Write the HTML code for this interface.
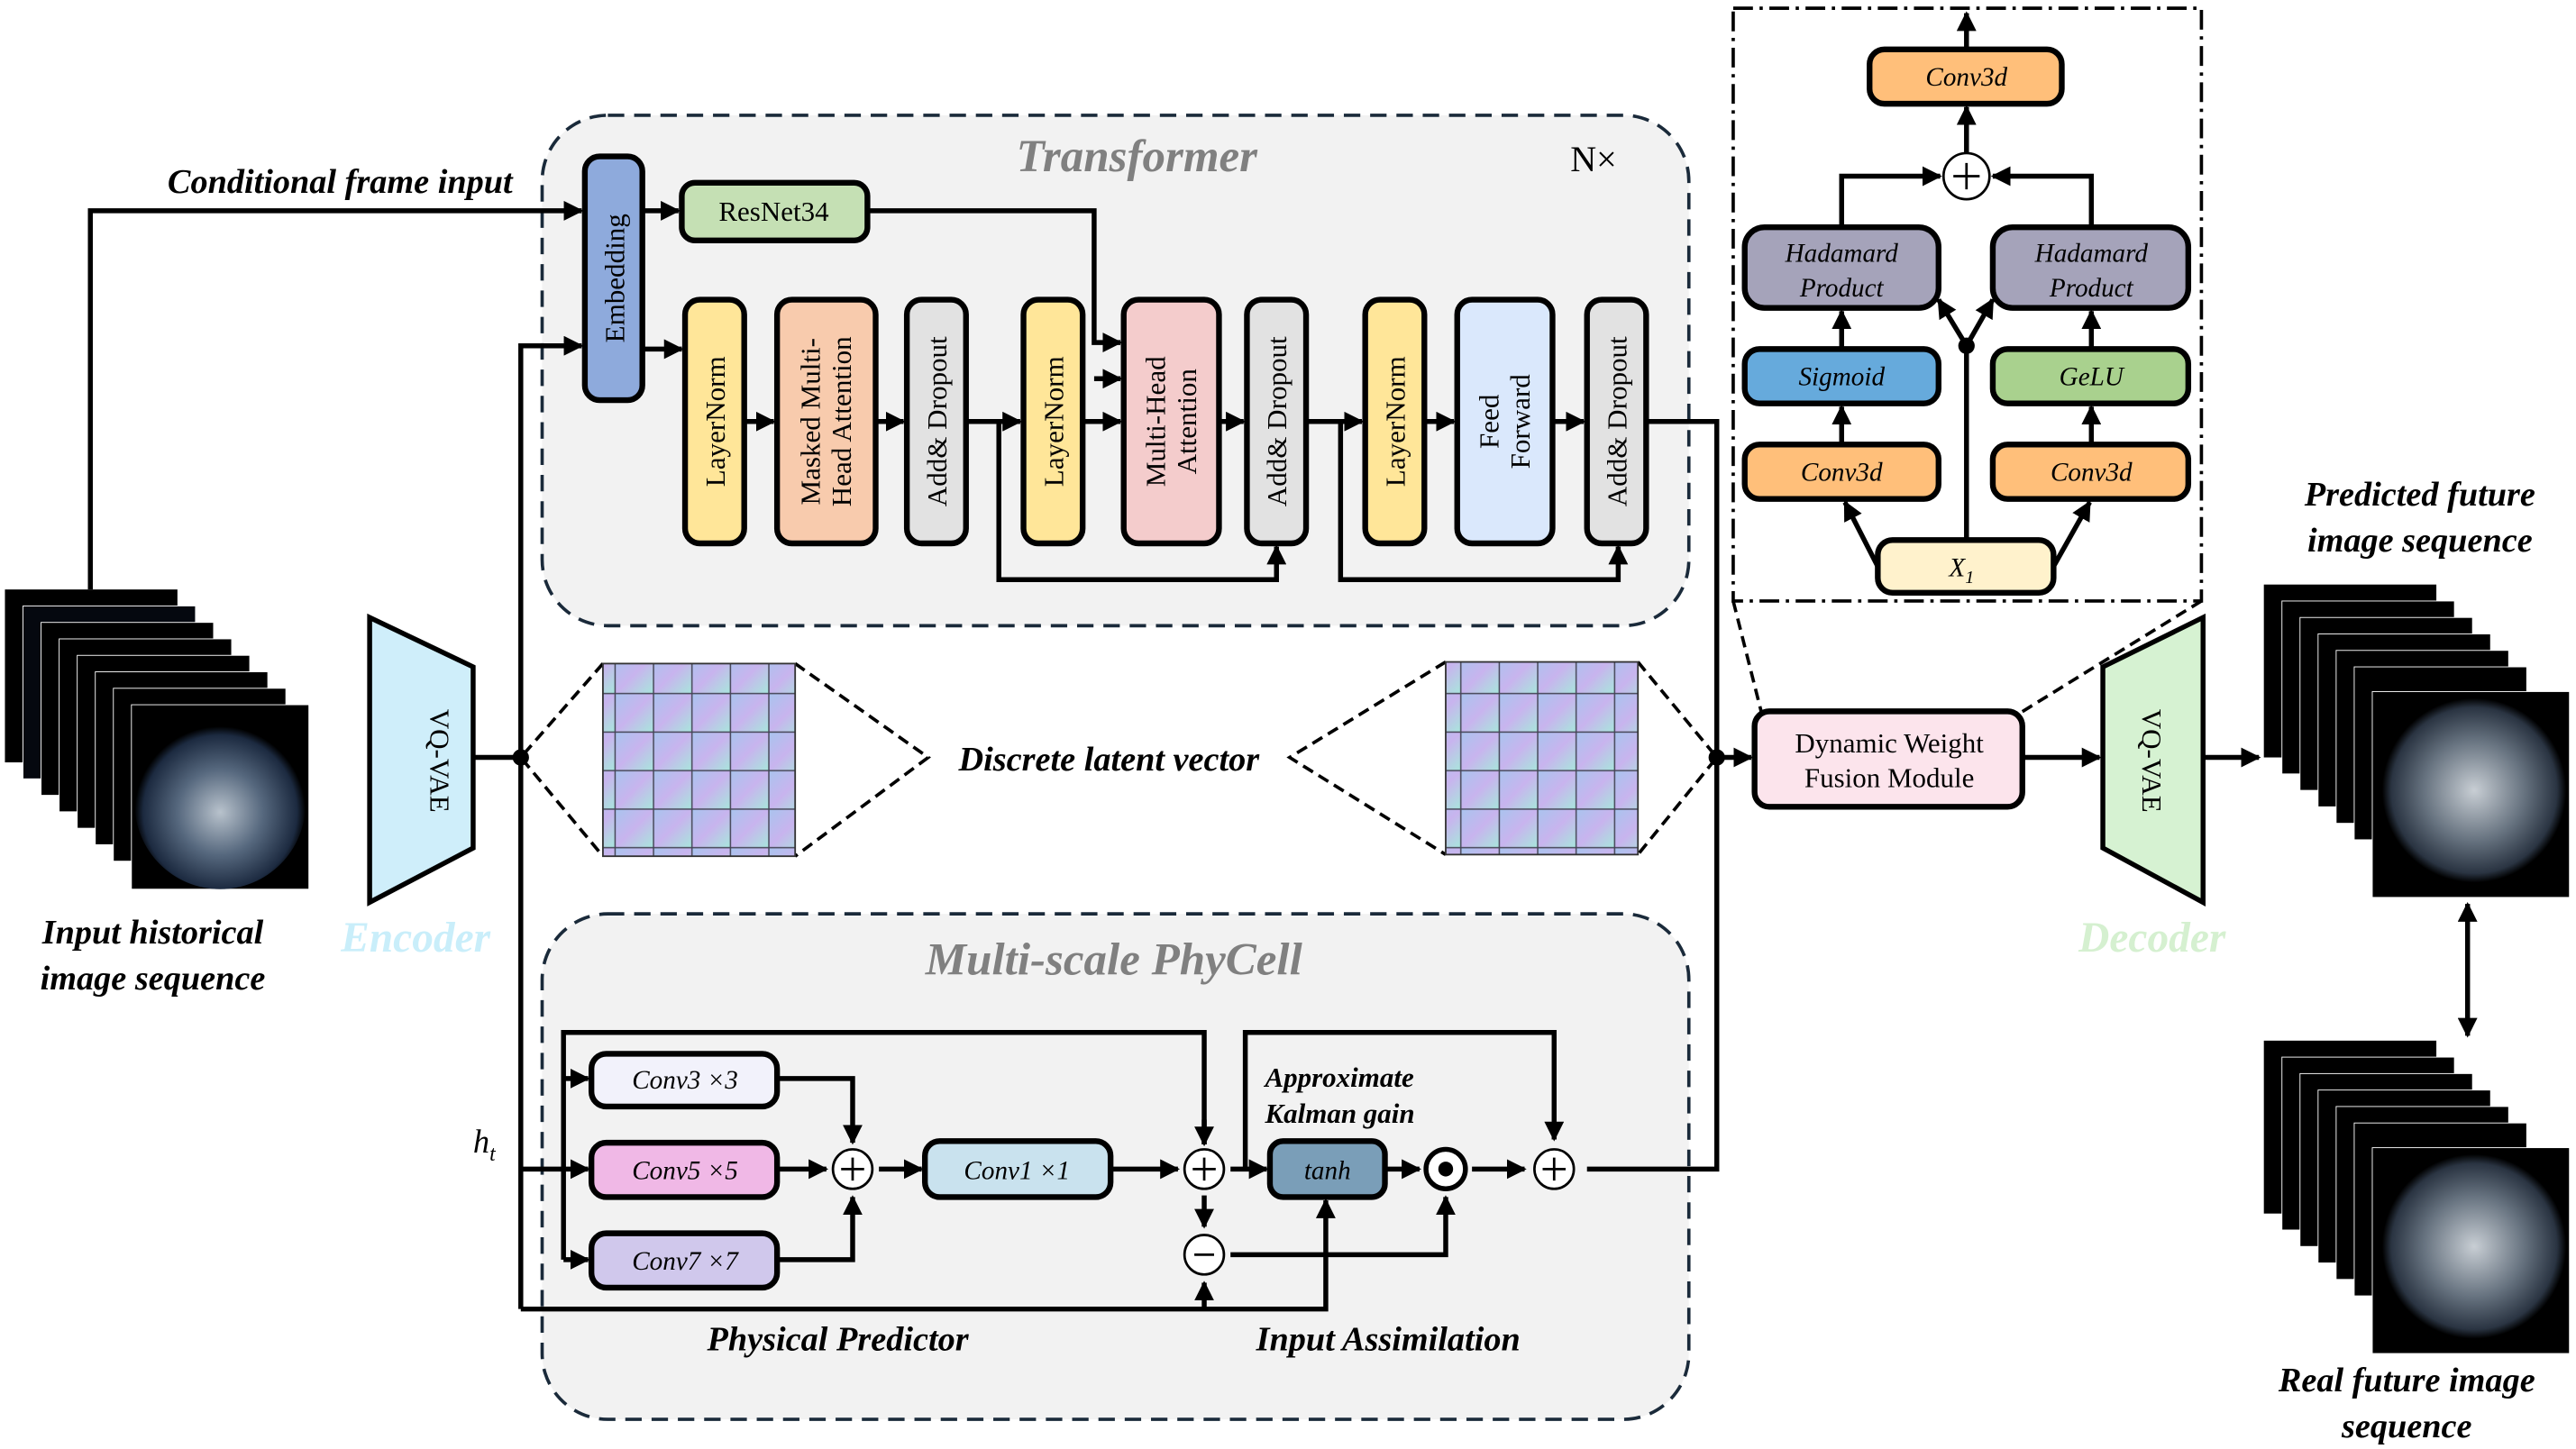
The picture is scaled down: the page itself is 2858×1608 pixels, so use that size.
<!DOCTYPE html>
<html><head><meta charset="utf-8"><style>
html,body{margin:0;padding:0;background:#fff}
svg{display:block}
text{font-family:"Liberation Serif",serif}
.it{font-style:italic}
.b{font-weight:bold}
</style></head><body>
<svg width="2858" height="1608" viewBox="0 0 1568 880" preserveAspectRatio="none" xmlns="http://www.w3.org/2000/svg">
<defs>
<marker id="a" viewBox="0 0 10 10" refX="9" refY="5" markerWidth="4" markerHeight="4" orient="auto-start-reverse"><path d="M0,0L10,5L0,10z" fill="#000"/></marker>
<linearGradient id="g1" x1="0" y1="0" x2="1" y2="1"><stop offset="0" stop-color="#a9c4ee"/><stop offset=".5" stop-color="#c8b4ee"/><stop offset="1" stop-color="#a8e6dc"/></linearGradient>
<radialGradient id="sky" cx=".5" cy=".55" r=".5"><stop offset="0" stop-color="#b8c2cc"/><stop offset=".5" stop-color="#56687e"/><stop offset=".9" stop-color="#1c2a40"/><stop offset="1" stop-color="#000"/></radialGradient>
<radialGradient id="sky2" cx=".5" cy=".5" r=".5"><stop offset="0" stop-color="#c8ced4"/><stop offset=".55" stop-color="#66727f"/><stop offset=".9" stop-color="#2a3442"/><stop offset="1" stop-color="#000"/></radialGradient>
<pattern id="grid" width="23.4" height="23.4" patternUnits="userSpaceOnUse"><rect width="23.4" height="23.4" fill="url(#g1)" stroke="#445" stroke-width=".8"/></pattern>
</defs>

<rect x="330" y="70" width="698" height="310" rx="40" fill="#f2f2f2" stroke="#1a2a3a" stroke-width="2" stroke-dasharray="10,6"/>
<text x="692" y="104" font-size="28" class="it b" fill="#808080" text-anchor="middle">Transformer</text>
<text x="970" y="104" font-size="22" text-anchor="middle">N×</text>

<rect x="330" y="555" width="698" height="307" rx="40" fill="#f2f2f2" stroke="#1a2a3a" stroke-width="2" stroke-dasharray="10,6"/>
<text x="678" y="592" font-size="28" class="it b" fill="#808080" text-anchor="middle">Multi-scale PhyCell</text>

<g stroke="#000" stroke-width="3" fill="none">
<polyline points="55,358 55,128 354,128" marker-end="url(#a)"/>
<polyline points="317,460 317,210 354,210" marker-end="url(#a)"/>
<line x1="288" y1="460" x2="317" y2="460"/>
<line x1="317" y1="460" x2="317" y2="795"/>
<line x1="391" y1="128" x2="413" y2="128" marker-end="url(#a)"/>
<line x1="391" y1="212" x2="415" y2="212" marker-end="url(#a)"/>
<polyline points="528,128 666,128 666,208 682,208" marker-end="url(#a)"/>
<line x1="666" y1="230" x2="682" y2="230" marker-end="url(#a)"/>
<line x1="453" y1="256" x2="471" y2="256" marker-end="url(#a)"/>
<line x1="533" y1="256" x2="550" y2="256" marker-end="url(#a)"/>
<line x1="588" y1="256" x2="621" y2="256" marker-end="url(#a)"/>
<line x1="659" y1="256" x2="682" y2="256" marker-end="url(#a)"/>
<line x1="742" y1="256" x2="757" y2="256" marker-end="url(#a)"/>
<line x1="795" y1="256" x2="829" y2="256" marker-end="url(#a)"/>
<line x1="867" y1="256" x2="885" y2="256" marker-end="url(#a)"/>
<line x1="945" y1="256" x2="964" y2="256" marker-end="url(#a)"/>
<polyline points="608,256 608,352 777,352 777,332" marker-end="url(#a)"/>
<polyline points="816,256 816,352 985,352 985,332" marker-end="url(#a)"/>
<polyline points="1002,256 1045,256 1045,460"/>
<line x1="1045" y1="460" x2="1066" y2="460" marker-end="url(#a)"/>
<line x1="1231" y1="460" x2="1278" y2="460" marker-end="url(#a)"/>
<line x1="1341" y1="460" x2="1375" y2="460" marker-end="url(#a)"/>
<polyline points="966,710 1045,710 1045,460"/>
<line x1="1502" y1="549" x2="1502" y2="629" marker-end="url(#a)" marker-start="url(#a)"/>

<line x1="317" y1="710" x2="358" y2="710" marker-end="url(#a)"/>
<polyline points="343,765 343,627 733,627 733,695" />
<line x1="733" y1="680" x2="733" y2="695" marker-end="url(#a)"/>
<line x1="343" y1="655" x2="358" y2="655" marker-end="url(#a)"/>
<line x1="343" y1="765" x2="358" y2="765" marker-end="url(#a)"/>
<polyline points="473,655 519,655 519,694" marker-end="url(#a)"/>
<polyline points="473,765 519,765 519,727" marker-end="url(#a)"/>
<line x1="473" y1="710" x2="503" y2="710" marker-end="url(#a)"/>
<line x1="535" y1="710" x2="561" y2="710" marker-end="url(#a)"/>
<line x1="676" y1="710" x2="717" y2="710" marker-end="url(#a)"/>
<line x1="749" y1="710" x2="771" y2="710" marker-end="url(#a)"/>
<line x1="733" y1="726" x2="733" y2="745" marker-end="url(#a)"/>
<polyline points="758,710 758,627 946,627 946,692" marker-end="url(#a)"/>
<polyline points="749,762 880,762 880,727" marker-end="url(#a)"/>
<polyline points="317,795 807,795 807,729" marker-end="url(#a)"/>
<line x1="733" y1="795" x2="733" y2="779" marker-end="url(#a)"/>
<line x1="843" y1="710" x2="864" y2="710" marker-end="url(#a)"/>
<line x1="896" y1="710" x2="928" y2="710" marker-end="url(#a)"/>

<line x1="1197" y1="30" x2="1197" y2="8" marker-end="url(#a)"/>
<line x1="1197" y1="93" x2="1197" y2="65" marker-end="url(#a)"/>
<polyline points="1121,138 1121,107 1181,107" marker-end="url(#a)"/>
<polyline points="1273,138 1273,107 1213,107" marker-end="url(#a)"/>
<line x1="1121" y1="212" x2="1121" y2="189" marker-end="url(#a)"/>
<line x1="1273" y1="212" x2="1273" y2="189" marker-end="url(#a)"/>
<line x1="1121" y1="270" x2="1121" y2="247" marker-end="url(#a)"/>
<line x1="1273" y1="270" x2="1273" y2="247" marker-end="url(#a)"/>
<line x1="1197" y1="328" x2="1197" y2="210"/>
<line x1="1197" y1="210" x2="1180" y2="182" marker-end="url(#a)"/>
<line x1="1197" y1="210" x2="1213" y2="182" marker-end="url(#a)"/>
<line x1="1143" y1="344" x2="1123" y2="305" marker-end="url(#a)"/>
<line x1="1250" y1="344" x2="1272" y2="305" marker-end="url(#a)"/>
</g>
<circle cx="317" cy="460" r="5"/>
<circle cx="1045" cy="460" r="5"/>
<circle cx="1197" cy="210" r="5"/>

<g stroke="#000" stroke-width="2" stroke-dasharray="7,4" fill="none">
<polyline points="367,403 317,460 367,520"/>
<polyline points="484,403 565,460 484,520"/>
<polyline points="880,402 785,460 880,519"/>
<polyline points="997,402 1045,460 997,519"/>
<line x1="1055" y1="365" x2="1072" y2="432"/>
<line x1="1340" y1="365" x2="1228" y2="434"/>
</g>
<rect x="1055" y="5" width="285" height="360" fill="none" stroke="#000" stroke-width="2" stroke-dasharray="12,4,2,4"/>

<rect x="367" y="403" width="117" height="117" fill="url(#grid)" stroke="#333"/>
<rect x="880" y="402" width="117" height="117" fill="url(#grid)" stroke="#333"/>
<text x="675" y="468" font-size="21" class="it b" text-anchor="middle">Discrete latent vector</text>

<g stroke="#000" stroke-width="3.5">
<rect x="356" y="95" width="35" height="148" rx="9" fill="#8eaadc"/>
<rect x="415" y="111" width="113" height="35" rx="8" fill="#c5e0b4"/>
<rect x="417" y="182" width="36" height="148" rx="9" fill="#ffe699"/>
<rect x="473" y="182" width="60" height="148" rx="9" fill="#f8cbad"/>
<rect x="552" y="182" width="36" height="148" rx="9" fill="#e2e2e2"/>
<rect x="623" y="182" width="36" height="148" rx="9" fill="#ffe699"/>
<rect x="684" y="182" width="58" height="148" rx="9" fill="#f4cccc"/>
<rect x="759" y="182" width="36" height="148" rx="9" fill="#e2e2e2"/>
<rect x="831" y="182" width="36" height="148" rx="9" fill="#ffe699"/>
<rect x="887" y="182" width="58" height="148" rx="9" fill="#dae8fc"/>
<rect x="966" y="182" width="36" height="148" rx="9" fill="#e2e2e2"/>
<rect x="1068" y="432" width="163" height="58" rx="9" fill="#fce4ec"/>
<rect x="1138" y="30" width="117" height="33" rx="9" fill="#ffbf7a"/>
<rect x="1062" y="138" width="118" height="49" rx="12" fill="#a5a3ba"/>
<rect x="1213" y="138" width="119" height="49" rx="12" fill="#a5a3ba"/>
<rect x="1062" y="212" width="118" height="33" rx="9" fill="#66aadc"/>
<rect x="1213" y="212" width="119" height="33" rx="9" fill="#a9d18e"/>
<rect x="1062" y="270" width="118" height="33" rx="9" fill="#ffbf7a"/>
<rect x="1213" y="270" width="119" height="33" rx="9" fill="#ffbf7a"/>
<rect x="1143" y="328" width="107" height="32" rx="9" fill="#fff2cc"/>
<rect x="360" y="640" width="113" height="32" rx="9" fill="#f2f2fb"/>
<rect x="360" y="694" width="113" height="33" rx="9" fill="#f0b8e6"/>
<rect x="360" y="749" width="113" height="33" rx="9" fill="#d0c8ec"/>
<rect x="563" y="693" width="113" height="34" rx="9" fill="#c9e2ee"/>
<rect x="773" y="693" width="70" height="34" rx="8" fill="#7a9eb8"/>
</g>
<polygon points="225,375 288,405 288,515 225,548" fill="#cfeefa" stroke="#000" stroke-width="3"/>
<polygon points="1280,405 1341,375 1341,548 1280,515" fill="#d6f2d2" stroke="#000" stroke-width="3"/>

<g font-size="17" text-anchor="middle">
<text transform="translate(380,169) rotate(-90)">Embedding</text>
<text x="471" y="134">ResNet34</text>
<text transform="translate(441,256) rotate(-90)">LayerNorm</text>
<text transform="translate(499,256) rotate(-90)">Masked Multi-</text>
<text transform="translate(518,256) rotate(-90)">Head Attention</text>
<text transform="translate(576,256) rotate(-90)">Add&amp; Dropout</text>
<text transform="translate(647,256) rotate(-90)">LayerNorm</text>
<text transform="translate(709,256) rotate(-90)">Multi-Head</text>
<text transform="translate(728,256) rotate(-90)">Attention</text>
<text transform="translate(783,256) rotate(-90)">Add&amp; Dropout</text>
<text transform="translate(855,256) rotate(-90)">LayerNorm</text>
<text transform="translate(912,256) rotate(-90)">Feed</text>
<text transform="translate(931,256) rotate(-90)">Forward</text>
<text transform="translate(990,256) rotate(-90)">Add&amp; Dropout</text>
<text transform="translate(262,462) rotate(90)">VQ-VAE</text>
<text transform="translate(1304,462) rotate(90)">VQ-VAE</text>
<text x="1150" y="457">Dynamic Weight</text>
<text x="1150" y="478">Fusion Module</text>
</g>
<g font-size="16" class="it" text-anchor="middle">
<text x="1197" y="52">Conv3d</text>
<text x="1121" y="159">Hadamard</text>
<text x="1121" y="180">Product</text>
<text x="1273" y="159">Hadamard</text>
<text x="1273" y="180">Product</text>
<text x="1121" y="234">Sigmoid</text>
<text x="1273" y="234">GeLU</text>
<text x="1121" y="292">Conv3d</text>
<text x="1273" y="292">Conv3d</text>
<text x="1194" y="350">X<tspan font-size="11" dy="4">1</tspan></text>
<text x="417" y="661">Conv3 ×3</text>
<text x="417" y="716">Conv5 ×5</text>
<text x="417" y="771">Conv7 ×7</text>
<text x="619" y="716">Conv1 ×1</text>
<text x="808" y="716">tanh</text>
</g>

<g fill="#fff" stroke="#000" stroke-width="1.5">
<circle cx="1197" cy="107" r="14"/>
<circle cx="519" cy="710" r="12"/>
<circle cx="733" cy="710" r="12"/>
<circle cx="733" cy="762" r="12"/>
<circle cx="946" cy="710" r="12"/>
<circle cx="880" cy="710" r="12" stroke-width="3"/>
</g>
<circle cx="880" cy="710" r="4.5"/>
<g stroke="#000" stroke-width="1.5">
<path d="M1189,107H1205M1197,99V115M512,710H526M519,703V717M726,710H740M733,703V717M939,710H953M946,703V717M727,762H739"/>
</g>

<g class="it b" font-size="21" text-anchor="middle">
<text x="207" y="117">Conditional frame input</text>
<text x="93" y="573">Input historical</text>
<text x="93" y="601">image sequence</text>
<text x="1473" y="307">Predicted future</text>
<text x="1473" y="335">image sequence</text>
<text x="1465" y="845">Real future image</text>
<text x="1465" y="873">sequence</text>
<text x="510" y="820">Physical Predictor</text>
<text x="845" y="820">Input Assimilation</text>
<text x="253" y="578" fill="#c9eefa" font-size="26">Encoder</text>
<text x="1310" y="578" fill="#d5f0d0" font-size="26">Decoder</text>
</g>
<g class="it b" font-size="17"><text x="770" y="660">Approximate</text><text x="770" y="682">Kalman gain</text></g>
<text x="288" y="700" font-size="20" class="it">h<tspan font-size="13" dy="5">t</tspan></text>

<g>
<rect x="3" y="358" width="105" height="105" fill="#000"/><rect x="14" y="368" width="105" height="105" fill="#05080f" stroke="#fff" stroke-width=".5"/>
<rect x="25" y="378" width="105" height="105" fill="#000" stroke="#fff" stroke-width=".5"/><rect x="36" y="388" width="105" height="105" fill="#000" stroke="#fff" stroke-width=".5"/>
<rect x="47" y="398" width="105" height="105" fill="#000" stroke="#fff" stroke-width=".5"/><rect x="58" y="408" width="105" height="105" fill="#000" stroke="#fff" stroke-width=".5"/>
<rect x="69" y="418" width="105" height="105" fill="#000" stroke="#fff" stroke-width=".5"/><rect x="80" y="428" width="108" height="112" fill="#000" stroke="#fff" stroke-width=".5"/>
<circle cx="134" cy="488" r="52" fill="url(#sky)"/>
</g>
<g>
<rect x="1378" y="355" width="105" height="105" fill="#000"/><rect x="1389" y="365" width="105" height="105" fill="#000" stroke="#fff" stroke-width=".5"/>
<rect x="1400" y="375" width="105" height="105" fill="#000" stroke="#fff" stroke-width=".5"/><rect x="1411" y="385" width="105" height="105" fill="#000" stroke="#fff" stroke-width=".5"/>
<rect x="1422" y="395" width="105" height="105" fill="#000" stroke="#fff" stroke-width=".5"/><rect x="1433" y="405" width="105" height="105" fill="#000" stroke="#fff" stroke-width=".5"/>
<rect x="1444" y="420" width="120" height="125" fill="#000" stroke="#fff" stroke-width=".5"/>
<circle cx="1506" cy="480" r="56" fill="url(#sky2)"/>
</g>
<g>
<rect x="1378" y="632" width="105" height="105" fill="#000"/><rect x="1389" y="642" width="105" height="105" fill="#000" stroke="#fff" stroke-width=".5"/>
<rect x="1400" y="652" width="105" height="105" fill="#000" stroke="#fff" stroke-width=".5"/><rect x="1411" y="662" width="105" height="105" fill="#000" stroke="#fff" stroke-width=".5"/>
<rect x="1422" y="672" width="105" height="105" fill="#000" stroke="#fff" stroke-width=".5"/><rect x="1433" y="682" width="105" height="105" fill="#000" stroke="#fff" stroke-width=".5"/>
<rect x="1444" y="697" width="120" height="125" fill="#000" stroke="#fff" stroke-width=".5"/>
<circle cx="1506" cy="757" r="56" fill="url(#sky2)"/>
</g>
</svg>
</body></html>
